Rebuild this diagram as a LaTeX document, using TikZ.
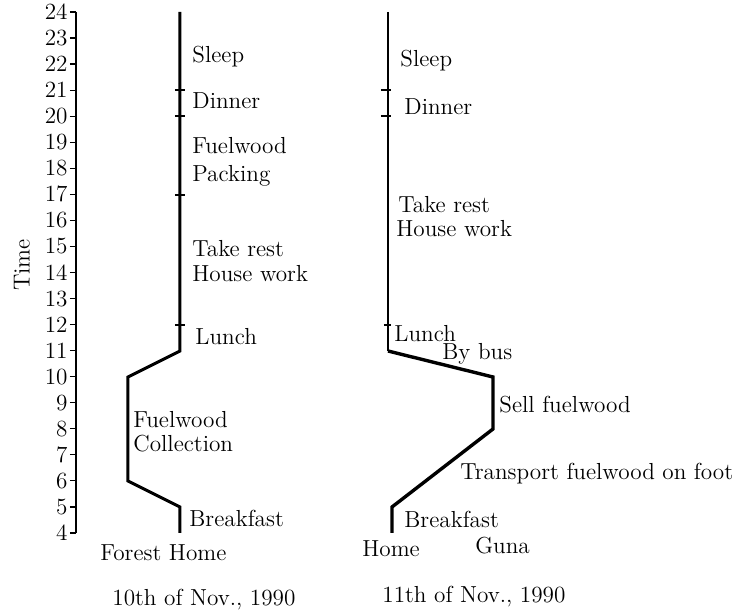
\documentclass[tikz,border=0pt]{standalone}
\begin{document}
\begin{tikzpicture}[x=0.5pt,y=-0.5pt,
  txt/.style={inner sep=0pt,font=\fontsize{11.6}{12.5}\selectfont},
  lbl/.style={txt,anchor=base west},
  num/.style={txt,anchor=east},
  axisline/.style={line width=1pt,line join=miter},
  route/.style={line width=1.5pt,line join=miter},
  thinroute/.style={line width=0.85pt},
  thickroute/.style={line width=1.7pt,line join=miter},
  tickmark/.style={line width=0.6pt}]
\useasboundingbox (0,0) rectangle (736,610);

% time axis
\coordinate (atop) at (76,12);
\coordinate (abot) at (76,533);
\draw[axisline] (atop) -- (abot);
\foreach \h in {4,...,24}{
  \pgfmathsetmacro\yy{533-(\h-4)*26.05}
  \coordinate (tk\h) at (70,\yy);
  \coordinate (ax\h) at (76,\yy);
  \draw[tickmark] (tk\h) -- (ax\h);
  \node[num] (n\h) at (68,\yy) {\h};
}
\node[txt,rotate=90] (time) at (22,265) {Time};

% 10th of Nov. route
\coordinate (L4) at (180,533);
\coordinate (L5) at (180,507);
\coordinate (L6) at (128,481);
\coordinate (L10) at (128,377);
\coordinate (L11) at (180,351);
\coordinate (L24) at (180,12);
\draw[route] (L4) -- (L5) -- (L6) -- (L10) -- (L11) -- (L24);
\foreach \yy in {90,116,195,325}{
  \draw[tickmark] (175,\yy) -- (185,\yy);
}

\node[lbl] (lsleep) at (192,63) {Sleep};
\node[lbl] (ldinner) at (192,109) {Dinner};
\node[lbl] (lfw1) at (192,154) {Fuelwood};
\node[lbl] (lpack) at (192,182) {Packing};
\node[lbl] (lrest) at (192,257) {Take rest};
\node[lbl] (lhouse) at (192,282) {House work};
\node[lbl] (llunch) at (195,345) {Lunch};
\node[lbl] (lfw2) at (133,428) {Fuelwood};
\node[lbl] (lcoll) at (133,452) {Collection};
\node[lbl] (lbreak) at (189,527) {Breakfast};
\node[lbl] (lplace) at (100,561) {Forest Home};
\node[lbl] (ldate) at (112,606) {10th of Nov., 1990};

% 11th of Nov. route
\coordinate (R24) at (388,12);
\coordinate (R11) at (388,351);
\coordinate (R10) at (493,377);
\coordinate (R8) at (493,429);
\coordinate (R5) at (392,507);
\coordinate (R4) at (392,533);
\draw[thinroute] (R24) -- (R11);
\draw[thickroute] (R11) -- (R10) -- (R8) -- (R5) -- (R4);
\draw[tickmark] (381,90) -- (391,90);
\draw[tickmark] (381,116) -- (391,116);
\draw[tickmark] (384,325) -- (391,325);

\node[lbl] (rsleep) at (400,67) {Sleep};
\node[lbl] (rdinner) at (404,115) {Dinner};
\node[lbl] (rrest) at (398,213) {Take rest};
\node[lbl] (rhouse) at (396,237) {House work};
\node[lbl] (rlunch) at (394,342) {Lunch};
\node[lbl] (rbus) at (442,360) {By bus};
\node[lbl] (rsell) at (499,413) {Sell fuelwood};
\node[lbl] (rtrans) at (460,480) {Transport fuelwood on foot};
\node[lbl] (rbreak) at (404,528) {Breakfast};
\node[lbl] (rhome) at (362,557) {Home};
\node[lbl] (rguna) at (475,554) {Guna};
\node[lbl] (rdate) at (382,603) {11th of Nov., 1990};
\end{tikzpicture}
\end{document}
